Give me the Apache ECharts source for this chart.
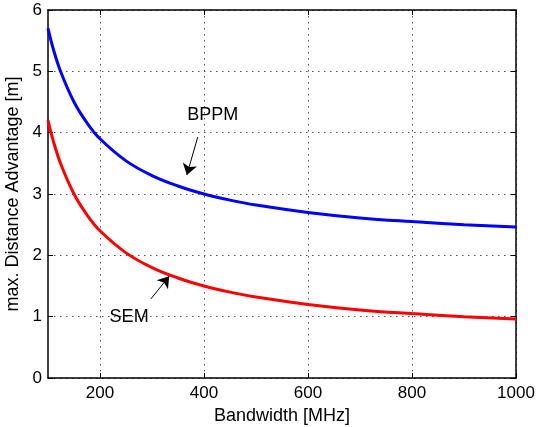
<!DOCTYPE html>
<html>
<head>
<meta charset="utf-8">
<script src="https://cdn.jsdelivr.net/npm/echarts@6/dist/echarts.min.js"></script>
<style>html,body{margin:0;padding:0;background:#fff}#c{width:537px;height:427px}</style>
</head>
<body>
<div id="c"></div>
<script>
const bandwidth = [100, 110, 125, 150, 175, 200, 250, 300, 350, 400, 450, 500, 600, 700, 800, 900, 1000];
const bppm = [5.70, 5.37, 4.98, 4.50, 4.16, 3.90, 3.54, 3.30, 3.13, 3.00, 2.90, 2.82, 2.70, 2.61, 2.55, 2.50, 2.46];
const sem  = [4.20, 3.87, 3.48, 3.00, 2.66, 2.40, 2.04, 1.80, 1.63, 1.50, 1.40, 1.32, 1.20, 1.11, 1.05, 1.00, 0.96];
const xTicks = [200, 400, 600, 800, 1000];
const yTicks = [0, 1, 2, 3, 4, 5, 6];
const xLabel = 'Bandwidth [MHz]';
const yLabel = 'max. Distance Advantage [m]';
const annotations = [
  {text: 'BPPM', at: [417, 4.29], from: [388, 3.93], to: [367, 3.31]},
  {text: 'SEM', at: [256, 0.99], from: [298, 1.29], to: [333, 1.66]}
];

const FONT = "'Liberation Sans', Arial, Helvetica, sans-serif";
const chart = echarts.init(document.getElementById('c'), null, {renderer: 'canvas'});
const pairs = arr => bandwidth.map((x, i) => [x, arr[i]]);
const plain = v => String(v);

chart.setOption({
  animation: false,
  backgroundColor: '#fff',
  textStyle: {fontFamily: FONT},
  grid: {left: 48, right: 21, top: 10, bottom: 49, containLabel: false, outerBoundsMode: 'none'},
  xAxis: [{
    type: 'value', min: 100, max: 1000, interval: 100,
    name: xLabel, nameLocation: 'middle', nameGap: 18,
    nameTextStyle: {fontSize: 18, color: '#000', fontFamily: FONT},
    axisLine: {show: true, onZero: false, lineStyle: {color: '#000', width: 1.5}},
    axisTick: {show: true, inside: true, length: 5, customValues: xTicks, lineStyle: {color: '#000'}},
    axisLabel: {fontSize: 17, color: '#000', margin: 7, fontFamily: FONT, customValues: xTicks, formatter: plain},
    splitLine: {show: true, lineStyle: {color: '#555', type: [1.5, 4.5], width: 1}}
  }, {
    type: 'value', min: 100, max: 1000, interval: 100, position: 'top',
    axisLine: {show: true, onZero: false, lineStyle: {color: '#000', width: 1.5}},
    axisTick: {show: true, inside: true, length: 5, customValues: xTicks, lineStyle: {color: '#000'}},
    axisLabel: {show: false},
    splitLine: {show: false}
  }],
  yAxis: [{
    type: 'value', min: 0, max: 6, interval: 1,
    name: yLabel, nameLocation: 'middle', nameGap: 18,
    nameTextStyle: {fontSize: 18, color: '#000', fontFamily: FONT},
    axisLine: {show: true, onZero: false, lineStyle: {color: '#000', width: 1.5}},
    axisTick: {show: true, inside: true, length: 5, lineStyle: {color: '#000'}},
    axisLabel: {fontSize: 17, color: '#000', margin: 6, fontFamily: FONT, formatter: plain},
    splitLine: {show: true, lineStyle: {color: '#555', type: [1.5, 4.5], width: 1}}
  }, {
    type: 'value', min: 0, max: 6, interval: 1, position: 'right',
    axisLine: {show: true, onZero: false, lineStyle: {color: '#000', width: 1.5}},
    axisTick: {show: true, inside: true, length: 5, lineStyle: {color: '#000'}},
    axisLabel: {show: false},
    splitLine: {show: false}
  }],
  series: [{
    name: 'BPPM', type: 'line', data: pairs(bppm), smooth: 0.4, showSymbol: false,
    lineStyle: {color: '#0000ff', width: 3}, itemStyle: {color: '#0000ff'}, z: 3,
    markLine: {
      silent: true, symbol: ['none', 'arrow'], symbolSize: 11,
      label: {show: false}, lineStyle: {color: '#000', width: 1, type: 'solid'},
      itemStyle: {color: '#000'},
      data: annotations.map(a => [{coord: a.from}, {coord: a.to}])
    },
    markPoint: {
      silent: true, symbol: 'circle', symbolSize: 1, itemStyle: {color: 'rgba(0,0,0,0)'},
      label: {show: true, position: 'inside', color: '#000', fontSize: 18, fontFamily: FONT,
              formatter: p => p.name},
      data: annotations.map(a => ({name: a.text, coord: a.at}))
    }
  }, {
    name: 'SEM', type: 'line', data: pairs(sem), smooth: 0.4, showSymbol: false,
    lineStyle: {color: '#ff0000', width: 3}, itemStyle: {color: '#ff0000'}, z: 3
  }]
});
</script>
</body>
</html>
